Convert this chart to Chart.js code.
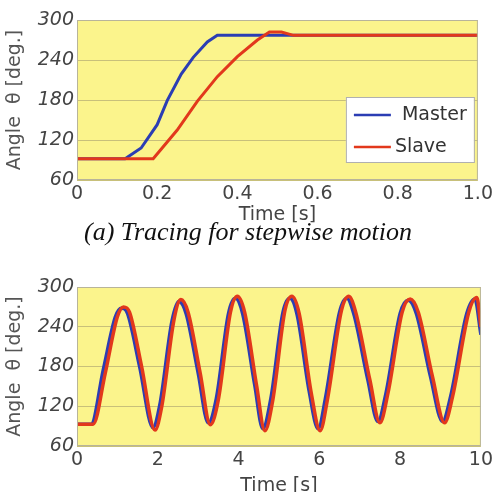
<!DOCTYPE html>
<html>
<head>
<meta charset="utf-8">
<script src="https://cdn.jsdelivr.net/npm/chart.js@4/dist/chart.umd.min.js"></script>
<style>
html,body{margin:0;padding:0;background:#fff;width:496px;height:492px;overflow:hidden;}
.box{position:absolute;left:0;width:496px;}
#c1box{top:0;height:226px;}
#c2box{top:245px;height:247px;}
#cap{position:absolute;left:0;width:496px;top:216px;line-height:32px;text-align:center;font-family:"Liberation Serif","Times New Roman",serif;font-style:italic;font-size:26px;color:#111;}
</style>
</head>
<body>
<div class="box" id="c1box"><canvas id="c1"></canvas></div>
<div id="cap">(a) Tracing for stepwise motion</div>
<div class="box" id="c2box"><canvas id="c2"></canvas></div>
<script>
// ---- data ----
const seriesNames = ["Master", "Slave"];
const yTicks = [60, 120, 180, 240, 300];
const stepTicksX = [0, 0.2, 0.4, 0.6, 0.8, 1.0];
const sineTicksX = [0, 2, 4, 6, 8, 10];

// (a) stepwise
const stepMasterT = [0, 0.12, 0.16, 0.2, 0.225, 0.26, 0.29, 0.325, 0.35, 1.0];
const stepMasterV = [92, 92, 108, 143, 179, 219, 244, 267, 277, 277];
const stepSlaveT  = [0, 0.19, 0.25, 0.3, 0.35, 0.4, 0.45, 0.48, 0.51, 0.54, 1.0];
const stepSlaveV  = [92, 92, 135, 178, 215, 245, 270, 282, 282, 277, 277];

// (b) periodic
const sineMasterT = [0, 0.35, 0.65, 0.95, 1.1, 1.25, 1.55, 1.88, 2.05, 2.35, 2.52, 2.7, 3.0, 3.25, 3.45, 3.75, 3.92, 4.1, 4.4, 4.6, 4.8, 5.1, 5.27, 5.45, 5.75, 5.97, 6.15, 6.5, 6.68, 6.85, 7.2, 7.45, 7.65, 8.0, 8.2, 8.4, 8.75, 9.05, 9.25, 9.65, 9.85, 10.0];
const sineMasterV = [93, 93, 175, 255, 268, 260, 180, 88, 122, 248, 278, 260, 170, 95, 132, 260, 283, 260, 152, 86, 132, 262, 283, 258, 142, 86, 132, 262, 283, 260, 160, 97, 140, 260, 280, 260, 165, 97, 135, 260, 282, 228];
const sineSlaveT  = [0, 0.4, 0.7, 1.0, 1.15, 1.3, 1.6, 1.93, 2.1, 2.4, 2.57, 2.75, 3.05, 3.3, 3.5, 3.8, 3.97, 4.15, 4.45, 4.65, 4.85, 5.15, 5.32, 5.5, 5.8, 6.02, 6.2, 6.55, 6.73, 6.9, 7.25, 7.5, 7.7, 8.05, 8.25, 8.45, 8.8, 9.1, 9.3, 9.7, 9.9, 10.0];
const sineSlaveV  = [93, 93, 170, 255, 270, 262, 180, 84, 120, 250, 281, 262, 170, 92, 130, 262, 286, 262, 150, 83, 130, 265, 286, 260, 140, 83, 130, 265, 286, 262, 160, 95, 140, 262, 282, 262, 165, 95, 135, 262, 284, 240];

const blue = "#2b3db4";
const red = "#e2381c";
const font = "'DejaVu Sans', sans-serif";

function pts(t, v){ return t.map((x,i)=>({x:x, y:v[i]})); }

const bgPlugin = {
  id:'bg',
  beforeDraw(chart){
    const a = chart.chartArea, ctx = chart.ctx;
    ctx.save(); ctx.fillStyle = "#fbf48c"; ctx.fillRect(a.left, a.top, a.right-a.left, a.bottom-a.top); ctx.restore();
  },
  afterDraw(chart){
    const a = chart.chartArea, ctx = chart.ctx;
    ctx.save(); ctx.strokeStyle = "#b8b49a"; ctx.lineWidth = 1;
    ctx.strokeRect(a.left+0.5, a.top+0.5, a.right-a.left-1, a.bottom-a.top-1); ctx.restore();
  }
};

const legendPlugin = {
  id:'boxLegend',
  afterDraw(chart, args, opts){
    if(!opts.show) return;
    const a = chart.chartArea, ctx = chart.ctx;
    const w = 128, h = 65;
    const x = a.right - 4 - w, y = a.bottom - 18 - h;
    ctx.save();
    ctx.fillStyle = "#fff"; ctx.fillRect(x, y, w, h);
    ctx.strokeStyle = "#b0b0b0"; ctx.lineWidth = 1; ctx.strokeRect(x+0.5, y+0.5, w, h);
    chart.data.datasets.forEach((ds, i)=>{
      const cy = y + 18 + i*32;
      ctx.strokeStyle = ds.borderColor; ctx.lineWidth = 2.5;
      ctx.beginPath(); ctx.moveTo(x+8, cy); ctx.lineTo(x+45, cy); ctx.stroke();
      ctx.fillStyle = "#333"; ctx.font = "19px " + font; ctx.textBaseline = "middle";
      ctx.fillText(ds.label, x + (i===0 ? 56 : 49), cy);
    });
    ctx.restore();
  }
};

function makeChart(id, mT, mV, sT, sV, xTicks, xMax, topPad, rightPad, axisH, titlePad, titleBottom, showLegend, interp, lw){
  return new Chart(document.getElementById(id), {
    type:'line',
    data:{ datasets:[
      {label:seriesNames[0], data:pts(mT,mV), borderColor:blue, borderWidth:lw, pointRadius:0, cubicInterpolationMode:interp, fill:false, order:1},
      {label:seriesNames[1], data:pts(sT,sV), borderColor:red, borderWidth:lw, pointRadius:0, cubicInterpolationMode:interp, fill:false, order:0}
    ]},
    options:{
      responsive:true, maintainAspectRatio:false, animation:false,
      layout:{padding:{top:topPad, right:rightPad, left:0, bottom:0}},
      plugins:{legend:{display:false}, tooltip:{enabled:false}, boxLegend:{show:showLegend}},
      scales:{
        x:{type:'linear', min:0, max:xMax,
           afterBuildTicks(s){ s.ticks = xTicks.map(v=>({value:v})); },
           afterFit(s){ s.height = axisH; },
           grid:{display:false, drawTicks:false},
           border:{display:false},
           ticks:{color:"#444", font:{family:font, size:19}, padding:3, maxRotation:0,
                  callback:(v)=> xMax===1 ? (v===0 ? "0" : v.toFixed(1)) : String(v)},
           title:{display:true, text:"Time [s]", color:"#444", font:{family:font, size:19}, padding:{top:titlePad, bottom:titleBottom}}
        },
        y:{min:60, max:300,
           afterBuildTicks(s){ s.ticks = yTicks.map(v=>({value:v})); },
           afterFit(s){ s.width = 77; },
           grid:{color:"#c8c07a", lineWidth:1, drawTicks:false},
           border:{display:false},
           ticks:{color:"#444", font:{family:font, size:19, style:'italic'}, padding:3},
           title:{display:true, text:"Angle  θ [deg.]", color:"#555", font:{family:font, size:19}, padding:{top:4, bottom:0}}
        }
      }
    },
    plugins:[bgPlugin, legendPlugin]
  });
}

makeChart('c1', stepMasterT, stepMasterV, stepSlaveT, stepSlaveV, stepTicksX, 1.0, 20, 12, 46, -4, 0, true, 'default', 3);
makeChart('c2', sineMasterT, sineMasterV, sineSlaveT, sineSlaveV, sineTicksX, 10, 42, 14, 46, 1, -5, false, 'monotone', 3.5);
</script>
</body>
</html>
